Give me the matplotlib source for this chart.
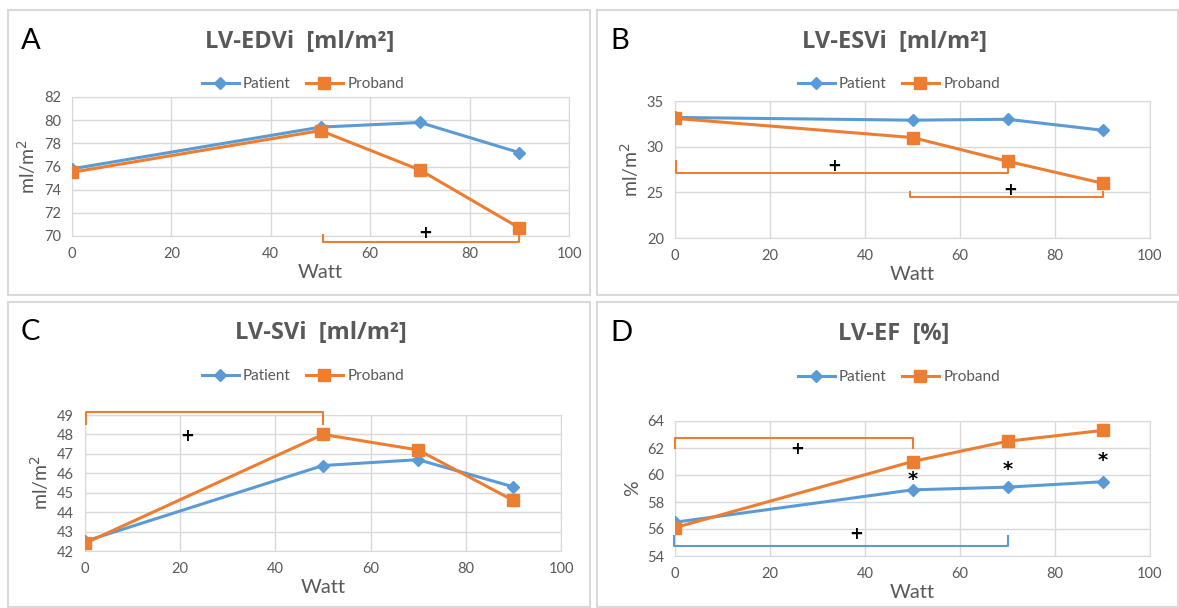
import matplotlib.pyplot as plt
from matplotlib.patches import Rectangle

watt = [0, 50, 70, 90]

edvi_patient = [75.8, 79.4, 79.8, 77.2]
edvi_proband = [75.5, 79.1, 75.7, 70.7]

esvi_patient = [33.2, 32.9, 33.0, 31.8]
esvi_proband = [33.1, 31.0, 28.4, 26.0]

svi_patient = [42.5, 46.4, 46.7, 45.3]
svi_proband = [42.4, 48.0, 47.2, 44.6]

ef_patient = [56.5, 58.9, 59.1, 59.5]
ef_proband = [56.1, 61.0, 62.5, 63.3]

BLUE = '#5B9BD5'
ORANGE = '#ED7D31'
GRID = '#D9D9D9'
TXT = '#595959'

W, H = 1179, 608
plt.rcParams['font.family'] = ['Lato', 'DejaVu Sans']

fig = plt.figure(figsize=(W / 100, H / 100), dpi=100)


def px(x, y):
    return x / W, 1 - y / H


def panel_box(x0, y0, x1, y1):
    fx, fy = px(x0, y1)
    fig.patches.append(Rectangle((fx, fy), (x1 - x0) / W, (y1 - y0) / H,
                                 transform=fig.transFigure, fill=False,
                                 edgecolor=GRID, linewidth=1.5))


def make_axes(x0, y0, x1, y1):
    fx, fy = px(x0, y1)
    return fig.add_axes([fx, fy, (x1 - x0) / W, (y1 - y0) / H])


def draw(ax, patient, proband, ylim, yticks, ylabel, title, letter,
         title_xy, legend_xy, letter_xy):
    ax.plot(watt, patient, color=BLUE, lw=2.2, marker='D', ms=6,
            label='Patient', zorder=3)
    ax.plot(watt, proband, color=ORANGE, lw=2.2, marker='s', ms=9,
            label='Proband', zorder=4)
    ax.set_xlim(0, 100)
    ax.set_ylim(*ylim)
    ax.set_xticks(range(0, 101, 20))
    ax.set_yticks(yticks)
    ax.grid(True, color=GRID, lw=1)
    ax.set_axisbelow(True)
    for s in ax.spines.values():
        s.set_color(GRID)
    ax.tick_params(length=0, labelsize=10.5, labelcolor=TXT, pad=8)
    ax.set_xlabel('Watt', fontsize=14.5, color=TXT, labelpad=2)
    ax.set_ylabel(ylabel, fontsize=14, color=TXT, labelpad=4)
    fig.text(*px(*title_xy), title, ha='center', va='center',
             fontsize=17, fontweight='bold', color=TXT,
             family=['Open Sans', 'DejaVu Sans'])
    fig.text(*px(*letter_xy), letter, ha='left', va='center',
             fontsize=21, color='black')
    ax.legend(loc='center', bbox_to_anchor=px(*legend_xy),
              bbox_transform=fig.transFigure, ncol=2, frameon=False,
              fontsize=11, labelcolor=TXT, handlelength=2.4,
              columnspacing=1.0, handletextpad=0.3)


def bracket(ax, x0, x1, y, tip, color):
    ax.plot([x0, x0, x1, x1], [tip, y, y, tip], color=color, lw=1.5,
            clip_on=False, zorder=5)


def mark(ax, x, y, s, size=12):
    ax.text(x, y, s, ha='center', va='center', fontsize=size,
            fontweight='bold', color='black', zorder=6,
            family=['DejaVu Sans'])


panel_box(8, 10, 590, 295)
panel_box(597, 10, 1178, 295)
panel_box(8, 302, 590, 607)
panel_box(597, 302, 1178, 607)

# A: end-diastolic volume index
axA = make_axes(72, 97, 569, 236)
draw(axA, edvi_patient, edvi_proband, (70, 82), range(70, 83, 2),
     'ml/m$^2$', 'LV-EDVi  [ml/m²]', 'A', (300, 42), (303, 84), (21, 41))
bracket(axA, 50.5, 90, 69.45, 70.05, ORANGE)
mark(axA, 71, 70.25, '+')

# B: end-systolic volume index
axB = make_axes(675, 101, 1150, 238)
draw(axB, esvi_patient, esvi_proband, (20, 35), range(20, 36, 5),
     'ml/m$^2$', 'LV-ESVi  [ml/m²]', 'B', (895, 42), (899, 84), (610, 41))
bracket(axB, 0.2, 70, 27.1, 28.4, ORANGE)
mark(axB, 33.5, 27.9, '+')
bracket(axB, 49.5, 90, 24.45, 25.0, ORANGE)
mark(axB, 70.5, 25.3, '+')

# C: stroke volume index
axC = make_axes(85, 415, 561, 551)
draw(axC, svi_patient, svi_proband, (42, 49), range(42, 50),
     'ml/m$^2$', 'LV-SVi  [ml/m²]', 'C', (321, 333), (303, 376), (21, 332))
bracket(axC, 0.3, 50, 49.15, 48.55, ORANGE)
mark(axC, 21.5, 47.9, '+')

# D: ejection fraction
axD = make_axes(675, 421, 1150, 556)
draw(axD, ef_patient, ef_proband, (54, 64), range(54, 65, 2),
     '%', 'LV-EF  [%]', 'D', (894, 334), (899, 377), (610, 333))
bracket(axD, 0, 50, 62.75, 62.0, ORANGE)
mark(axD, 25.7, 61.9, '+')
bracket(axD, -0.2, 70, 54.75, 55.45, BLUE)
mark(axD, 38.2, 55.65, '+')
for x, y in zip(watt[1:], [59.7, 60.4, 61.1]):
    mark(axD, x, y, '*', size=14)

fig.savefig('out.png', dpi=100)
